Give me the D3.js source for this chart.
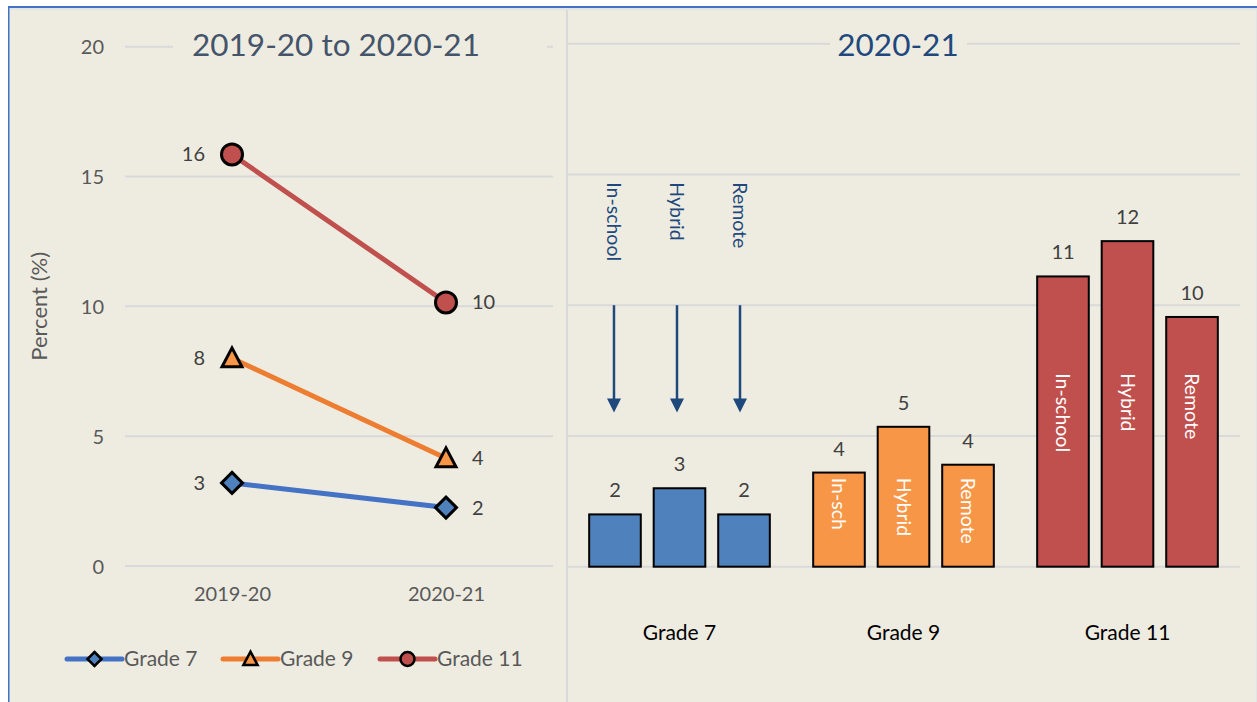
<!DOCTYPE html>
<html>
<head>
<meta charset="utf-8">
<script src="https://cdn.jsdelivr.net/npm/d3@7"></script>
<style>
  html, body { margin: 0; padding: 0; background: #ffffff; }
  svg { display: block; font-family: Lato, "Open Sans", "DejaVu Sans", sans-serif; }
</style>
</head>
<body>
<script>
// ---------------- DATA ----------------
const years = ["2019-20", "2020-21"];
const grades = ["Grade 7", "Grade 9", "Grade 11"];
const grade7Trend = [3.2, 2.25];
const grade9Trend = [8.0, 4.15];
const grade11Trend = [15.85, 10.15];
const modes = ["In-school", "Hybrid", "Remote"];
const grade7Modes = [2.0, 3.0, 2.0];
const grade9Modes = [3.6, 5.35, 3.9];
const grade11Modes = [11.1, 12.45, 9.55];
const grade9BarText = ["In-sch", "Hybrid", "Remote"];
const grade11BarText = ["In-school", "Hybrid", "Remote"];
const yTicks = [0, 5, 10, 15, 20];
const leftTitle = "2019-20 to 2020-21";
const rightTitle = "2020-21";
const yAxisTitle = "Percent (%)";

// ---------------- STYLE ----------------
const W = 1257, H = 702;
const BG = "#eeece1";
const GRID = "#d9d9d9";
const lineColors = ["#4472c4", "#ed7d31", "#c0504d"];
const markerFills = ["#4f81bd", "#f79646", "#c0504d"];
const barFills = ["#4f81bd", "#f79646", "#c0504d"];
const markerTypes = ["diamond", "triangle", "circle"];
const FS_NUM = 20;   // numeric labels
const FS_WORD = 21;  // word labels
const FS_ROT = 19.5; // rotated labels

const svg = d3.select("body").append("svg").attr("width", W).attr("height", H);
svg.append("rect").attr("width", W).attr("height", H).attr("fill", "#ffffff");

// frame
svg.append("rect").attr("x", 9).attr("y", 8).attr("width", W - 9).attr("height", H - 8).attr("fill", "#e4e4e4");
svg.append("rect").attr("x", 10).attr("y", 10).attr("width", 556).attr("height", H - 10).attr("fill", BG);
svg.append("rect").attr("x", 566).attr("y", 10).attr("width", 2).attr("height", H - 10).attr("fill", GRID);
svg.append("rect").attr("x", 568).attr("y", 10).attr("width", W - 569).attr("height", H - 10).attr("fill", BG);
svg.append("rect").attr("x", 8).attr("y", 6).attr("width", W - 8).attr("height", 2).attr("fill", "#4472c4");
svg.append("rect").attr("x", 8).attr("y", 6).attr("width", 1.5).attr("height", H - 6).attr("fill", "#4472c4");

// ---------------- LEFT PANEL ----------------
const yL = d3.scaleLinear().domain([0, 20]).range([566, 46.7]);
const xL = d3.scalePoint().domain(years).range([125, 553]).padding(0.5);
const gL = svg.append("g");

gL.selectAll("line.grid").data(yTicks).join("line")
  .attr("x1", 125).attr("x2", 553)
  .attr("y1", d => yL(d)).attr("y2", d => yL(d))
  .attr("stroke", GRID).attr("stroke-width", 2);

const yAxisL = d3.axisLeft(yL).tickValues(yTicks).tickSize(0).tickPadding(0);
const yAx = gL.append("g").attr("transform", "translate(104,0)").call(yAxisL);
yAx.select(".domain").remove();
yAx.selectAll("text").attr("font-size", FS_NUM).attr("fill", "#595959")
  .attr("font-family", "Lato, sans-serif").attr("dy", "0.35em");

const xAxisL = d3.axisBottom(xL).tickSize(0).tickPadding(0);
const xAx = gL.append("g").attr("transform", "translate(0,601)").call(xAxisL);
xAx.select(".domain").remove();
xAx.selectAll("text").attr("font-size", FS_NUM).attr("fill", "#595959")
  .attr("font-family", "Lato, sans-serif").attr("dy", 0);

gL.append("text").attr("transform", `translate(47,${yL(10)}) rotate(-90)`)
  .attr("text-anchor", "middle").attr("font-size", 22).attr("fill", "#595959").text(yAxisTitle);

// title with background box
gL.append("rect").attr("x", 173).attr("y", 24).attr("width", 374).attr("height", 44).attr("fill", BG);
gL.append("text").attr("x", 336).attr("y", 56).attr("text-anchor", "middle")
  .attr("font-size", 31.5).attr("fill", "#44546a").text(leftTitle);

const trendSeries = [grade7Trend, grade9Trend, grade11Trend];
const line = d3.line().x((d, i) => xL(years[i])).y(d => yL(d));

function drawMarker(g, type, cx, cy, size, fill, sw) {
  if (type === "circle") {
    g.append("circle").attr("cx", cx).attr("cy", cy).attr("r", size)
      .attr("fill", fill).attr("stroke", "#000").attr("stroke-width", sw);
  } else if (type === "diamond") {
    g.append("path").attr("d", `M${cx},${cy - size}L${cx + size},${cy}L${cx},${cy + size}L${cx - size},${cy}Z`)
      .attr("fill", fill).attr("stroke", "#000").attr("stroke-width", sw).attr("stroke-linejoin", "miter");
  } else {
    const h = size * 1.8, w = size * 1.9;
    g.append("path").attr("d", `M${cx},${cy - h * 0.55}L${cx + w / 2},${cy + h * 0.45}L${cx - w / 2},${cy + h * 0.45}Z`)
      .attr("fill", fill).attr("stroke", "#000").attr("stroke-width", sw).attr("stroke-linejoin", "miter");
  }
}

trendSeries.forEach((vals, s) => {
  gL.append("path").datum(vals).attr("d", line).attr("fill", "none")
    .attr("stroke", lineColors[s]).attr("stroke-width", 5).attr("stroke-linecap", "round");
});
trendSeries.forEach((vals, s) => {
  vals.forEach((v, i) => {
    drawMarker(gL, markerTypes[s], xL(years[i]), yL(v), 10.5, markerFills[s], 3);
    gL.append("text")
      .attr("x", i === 0 ? xL(years[i]) - 27 : xL(years[i]) + 26)
      .attr("y", yL(v)).attr("dy", "0.35em")
      .attr("text-anchor", i === 0 ? "end" : "start")
      .attr("font-size", FS_NUM).attr("fill", "#404040").text(Math.round(v));
  });
});

// legend
const legX = [67, 223, 380];
grades.forEach((g, s) => {
  const lg = gL.append("g");
  const x0 = legX[s], ly = 659;
  lg.append("line").attr("x1", x0).attr("x2", x0 + 55).attr("y1", ly).attr("y2", ly)
    .attr("stroke", lineColors[s]).attr("stroke-width", 5).attr("stroke-linecap", "round");
  drawMarker(lg, markerTypes[s], x0 + 27.5, ly, markerTypes[s] === "triangle" ? 7.5 : 7, markerFills[s], 2.5);
  lg.append("text").attr("x", x0 + 57).attr("y", ly).attr("dy", "0.35em")
    .attr("font-size", FS_WORD).attr("fill", "#595959").text(g);
});

// ---------------- RIGHT PANEL ----------------
const yR = d3.scaleLinear().domain([0, 20]).range([566.7, 43.7]);
const x0R = d3.scaleBand().domain(grades).range([567.5, 1239.5]).padding(0);
const x1R = d3.scaleBand().domain(modes).range([0, x0R.bandwidth()]).paddingInner(0.2).paddingOuter(0.336);
const gR = svg.append("g");

gR.selectAll("line.grid").data(yTicks).join("line")
  .attr("x1", 567.5).attr("x2", 1240)
  .attr("y1", d => yR(d)).attr("y2", d => yR(d))
  .attr("stroke", GRID).attr("stroke-width", 2);

gR.append("rect").attr("x", 830).attr("y", 22).attr("width", 137).attr("height", 44).attr("fill", BG);
gR.append("text").attr("x", 898).attr("y", 56).attr("text-anchor", "middle")
  .attr("font-size", 31.5).attr("fill", "#1f497d").text(rightTitle);

const barSeries = [grade7Modes, grade9Modes, grade11Modes];
const barText = [null, grade9BarText, grade11BarText];
const barTextStart = [null, 3.4, 7.4];

barSeries.forEach((vals, gi) => {
  const gx = x0R(grades[gi]);
  vals.forEach((v, mi) => {
    const bx = gx + x1R(modes[mi]);
    const bw = x1R.bandwidth();
    gR.append("rect").attr("x", bx).attr("y", yR(v)).attr("width", bw)
      .attr("height", yR(0) - yR(v)).attr("fill", barFills[gi])
      .attr("stroke", "#000").attr("stroke-width", 2);
    gR.append("text").attr("x", bx + bw / 2).attr("y", yR(v) - 24).attr("dy", "0.35em")
      .attr("text-anchor", "middle").attr("font-size", FS_NUM).attr("fill", "#404040").text(Math.round(v));
    if (barText[gi]) {
      gR.append("text")
        .attr("transform", `translate(${bx + bw / 2},${yR(barTextStart[gi])}) rotate(90)`)
        .attr("dy", "0.35em").attr("text-anchor", "start")
        .attr("font-size", FS_ROT).attr("fill", "#ffffff").text(barText[gi][mi]);
    }
  });
});

// category labels
grades.forEach(g => {
  gR.append("text").attr("x", x0R(g) + x0R.bandwidth() / 2).attr("y", 640)
    .attr("text-anchor", "middle").attr("font-size", FS_WORD).attr("fill", "#000").text(g);
});

// annotation labels + arrows for Grade 7
const ARROW = "#1f497d";
modes.forEach((m, mi) => {
  const cx = x0R(grades[0]) + x1R(m) + x1R.bandwidth() / 2 - 1.5 * mi - 1;
  gR.append("text")
    .attr("transform", `translate(${cx},${yR(14.7)}) rotate(90)`)
    .attr("dy", "0.35em").attr("text-anchor", "start")
    .attr("font-size", FS_ROT).attr("fill", ARROW).text(m);
  const yTop = yR(10), yTip = yR(5.9);
  gR.append("line").attr("x1", cx).attr("x2", cx).attr("y1", yTop).attr("y2", yTip - 10)
    .attr("stroke", ARROW).attr("stroke-width", 2.5);
  gR.append("path").attr("d", `M${cx - 7},${yTip - 14}L${cx + 7},${yTip - 14}L${cx},${yTip}Z`)
    .attr("fill", ARROW);
});
</script>
</body>
</html>
